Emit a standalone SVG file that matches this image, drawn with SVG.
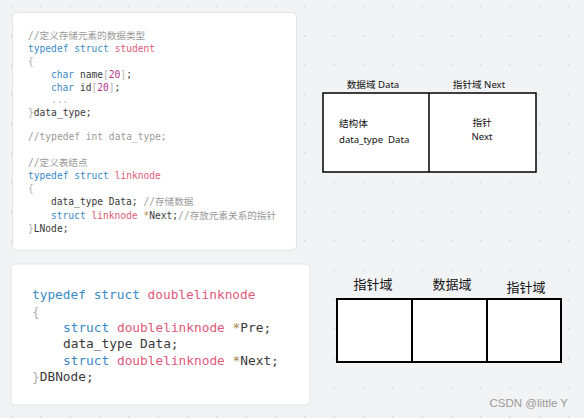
<svg xmlns="http://www.w3.org/2000/svg" width="584" height="418" viewBox="0 0 584 418">
<defs>
<pattern id="dots" x="11" y="5.7" width="29.3" height="29.3" patternUnits="userSpaceOnUse">
<circle cx="0.8" cy="0.8" r="0.8" fill="#c9cacd"/>
</pattern>
</defs>
<style>
.card{fill:#ffffff;stroke:#e3e4e7;stroke-width:1}
.code1{font-family:"DejaVu Sans Mono","Liberation Mono","Noto Sans CJK SC",monospace;font-size:9.6px;fill:#3a3a3a}
.code2{font-family:"DejaVu Sans Mono","Liberation Mono","Noto Sans CJK SC",monospace;font-size:12.8px;fill:#3a3a3a}
.cm{fill:#9a9a9a}
.kw{fill:#3b8bc6}
.nm{fill:#e05a7a}
.num{fill:#b0358a}
.br{fill:#b0b0b0}
.st{fill:#a6844c}
.box{fill:#ffffff;stroke:#000000}
.lbl{font-family:"Noto Sans","Noto Sans CJK SC",sans-serif;font-size:9.6px;fill:#111}
.lbl2{font-family:"Noto Sans","Noto Sans CJK SC",sans-serif;font-size:13px;fill:#111}
.wm{font-family:"Liberation Sans","Noto Sans CJK SC",sans-serif;font-size:11.5px;fill:#9a9a9a}
</style>
<rect x="0" y="0" width="584" height="418" fill="#f2f3f5"/>
<rect x="0" y="0" width="584" height="418" fill="url(#dots)"/>

<g id="card1">
<rect class="card" x="12.5" y="12.5" width="284" height="237.5" rx="4"/>
<g class="code1">
<text x="28" y="38.5" class="cm">//定义存储元素的数据类型</text>
<text x="28" y="51.5"><tspan class="kw">typedef struct</tspan> <tspan class="nm">student</tspan></text>
<text x="28" y="64.5" class="br">{</text>
<text x="51" y="77.5"><tspan class="kw">char</tspan> name<tspan class="br">[</tspan><tspan class="num">20</tspan><tspan class="br">]</tspan>;</text>
<text x="51" y="90.5"><tspan class="kw">char</tspan> id<tspan class="br">[</tspan><tspan class="num">20</tspan><tspan class="br">]</tspan>;</text>
<text x="51" y="102.5" class="br">...</text>
<text x="28" y="115.5"><tspan class="br">}</tspan>data_type;</text>
<text x="28" y="140" class="cm">//typedef int data_type;</text>
<text x="28" y="165.5" class="cm">//定义表结点</text>
<text x="28" y="178.5"><tspan class="kw">typedef struct</tspan> <tspan class="nm">linknode</tspan></text>
<text x="28" y="191.5" class="br">{</text>
<text x="51" y="204.5">data_type Data; <tspan class="cm">//存储数据</tspan></text>
<text x="51" y="219"><tspan class="kw">struct</tspan> <tspan class="nm">linknode</tspan> <tspan class="st">*</tspan>Next;<tspan class="cm">//存放元素关系的指针</tspan></text>
<text x="28" y="232"><tspan class="br">}</tspan>LNode;</text>
</g>
</g>

<g id="card2">
<rect class="card" x="11" y="264" width="299" height="141" rx="4"/>
<g class="code2">
<text x="32" y="298.5"><tspan class="kw">typedef struct</tspan> <tspan class="nm">doublelinknode</tspan></text>
<text x="32" y="315.5" class="br">{</text>
<text x="63" y="331.5"><tspan class="kw">struct</tspan> <tspan class="nm">doublelinknode</tspan> <tspan class="st">*</tspan>Pre;</text>
<text x="63" y="347.5">data_type Data;</text>
<text x="63" y="364.5"><tspan class="kw">struct</tspan> <tspan class="nm">doublelinknode</tspan> <tspan class="st">*</tspan>Next;</text>
<text x="32" y="381"><tspan class="br">}</tspan>DBNode;</text>
</g>
</g>

<g id="single-node">
<rect class="box" x="323" y="93" width="213" height="79" stroke-width="1.5"/>
<line x1="429" y1="93" x2="429" y2="172" stroke="#000" stroke-width="1.5"/>
<text class="lbl" x="373" y="87.5" text-anchor="middle">数据域 Data</text>
<text class="lbl" x="479" y="87.5" text-anchor="middle">指针域 Next</text>
<text class="lbl" x="339" y="126.5">结构体</text>
<text class="lbl" x="339" y="142.5" xml:space="preserve">data_type  Data</text>
<text class="lbl" x="482" y="125.5" text-anchor="middle">指针</text>
<text class="lbl" x="482" y="139.5" text-anchor="middle">Next</text>
</g>

<g id="double-node">
<rect class="box" x="337" y="299" width="224" height="63" stroke-width="2"/>
<line x1="412" y1="299" x2="412" y2="362" stroke="#000" stroke-width="2"/>
<line x1="487" y1="299" x2="487" y2="362" stroke="#000" stroke-width="2"/>
<text class="lbl2" x="373" y="288.5" text-anchor="middle">指针域</text>
<text class="lbl2" x="452" y="288.5" text-anchor="middle">数据域</text>
<text class="lbl2" x="526" y="291.5" text-anchor="middle">指针域</text>
</g>

<g id="connectors"></g>

<text class="wm" x="568" y="407" text-anchor="end">CSDN @little Y</text>
</svg>
